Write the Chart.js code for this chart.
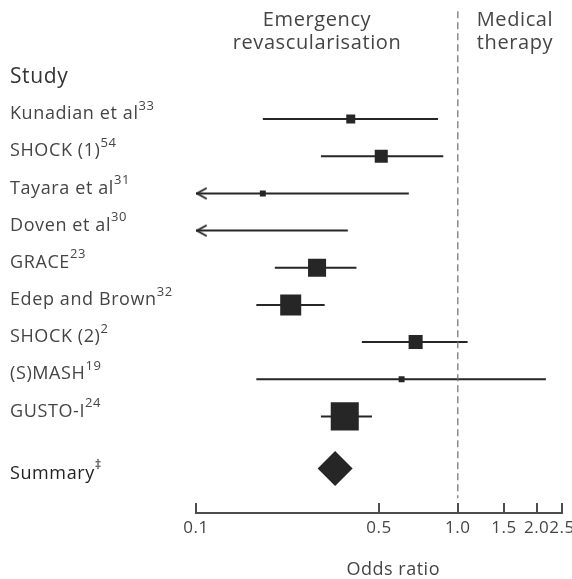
<!DOCTYPE html>
<html>
<head>
<meta charset="utf-8">
<script src="https://cdn.jsdelivr.net/npm/chart.js@4/dist/chart.umd.min.js"></script>
<style>
  html, body { margin: 0; padding: 0; background: #fff; }
  #wrap { width: 572px; height: 579px; }
</style>
</head>
<body>
<div id="wrap"><canvas id="forestChart"></canvas></div>
<script>
// study data (odds ratio with 95% CI)
var studies = ['Kunadian et al', 'SHOCK (1)', 'Tayara et al', 'Doven et al', 'GRACE',
               'Edep and Brown', 'SHOCK (2)', '(S)MASH', 'GUSTO-I'];
var refs = ['33', '54', '31', '30', '23', '32', '2', '19', '24'];
var oddsRatio = [0.39, 0.51, 0.18, null, 0.29, 0.23, 0.69, 0.61, 0.37];
var ciLow = [0.18, 0.30, 0.05, 0.05, 0.20, 0.17, 0.43, 0.17, 0.30];
var ciHigh = [0.84, 0.88, 0.65, 0.38, 0.41, 0.31, 1.09, 2.17, 0.47];
var weights = [3.9, 8.2, 1.7, 0, 15.7, 21.3, 9.5, 1.7, 37.9];   // % weight, box area
var summaryOR = 0.34;
var tickValues = [0.1, 0.5, 1.0, 1.5, 2.0, 2.5];

var axisMin = 0.1, axisMax = 2.5;
var summaryRow = 9.4;
var FONT = '"Open Sans", Lato, sans-serif';
var INK = '#262626';
var TXT = '#454545';

// build datasets from the arrays
var ciSegments = [];
var arrows = [];
var boxes = [];
var boxRadius = [];
studies.forEach(function (s, i) {
  ciSegments.push({x: ciLow[i], y: i}, {x: ciHigh[i], y: i}, {x: ciHigh[i], y: null});
  if (ciLow[i] < axisMin) arrows.push({x: axisMin, y: i});
  if (oddsRatio[i] != null) {
    boxes.push({x: oddsRatio[i], y: i});
    boxRadius.push(Math.sqrt(weights[i]) * 3.22);
  }
});

function arrowHead() {
  var c = document.createElement('canvas');
  c.width = 40; c.height = 16;
  var g = c.getContext('2d');
  g.strokeStyle = INK; g.lineWidth = 2; g.lineCap = 'round';
  g.beginPath(); g.moveTo(30, 3); g.lineTo(21, 8); g.lineTo(30, 13); g.stroke();
  return c;
}

var spacingPlugin = {
  id: 'spacing',
  beforeDraw: function (chart) { chart.ctx.letterSpacing = '0.5px'; }
};

// labels on the left + headers
var textPlugin = {
  id: 'forestText',
  afterDraw: function (chart) {
    var ctx = chart.ctx, y = chart.scales.y;
    ctx.save();
    ctx.textBaseline = 'middle';
    ctx.fillStyle = TXT;

    ctx.textAlign = 'center';
    ctx.letterSpacing = '0.6px';
    ctx.font = '20px ' + FONT;
    ctx.fillText('Emergency', 317, 20);
    ctx.fillText('revascularisation', 317, 43);
    ctx.fillText('Medical', 515, 20);
    ctx.fillText('therapy', 515, 43);

    ctx.textAlign = 'left';
    ctx.fillStyle = '#333';
    ctx.font = '21px ' + FONT;
    ctx.fillText('Study', 10, 77);

    function label(txt, sup, py, color) {
      ctx.fillStyle = color;
      ctx.font = '18px ' + FONT;
      ctx.fillText(txt, 10, py);
      var w = ctx.measureText(txt).width;
      ctx.font = '13px ' + FONT;
      ctx.fillText(sup, 10 + w, py - 8);
    }
    studies.forEach(function (s, i) {
      label(s, refs[i], y.getPixelForValue(i) - 5, TXT);
    });
    label('Summary', '\u2021', y.getPixelForValue(summaryRow) + 5, '#222');

    // upward tick marks on the x axis
    var x = chart.scales.x, bottom = chart.chartArea.bottom;
    ctx.strokeStyle = '#4d4d4d';
    ctx.lineWidth = 2;
    tickValues.forEach(function (v) {
      var px = Math.round(x.getPixelForValue(v));
      ctx.beginPath(); ctx.moveTo(px, bottom); ctx.lineTo(px, bottom - 10); ctx.stroke();
    });
    ctx.restore();
  }
};

new Chart(document.getElementById('forestChart'), {
  type: 'scatter',
  data: {
    datasets: [
      {
        type: 'line', data: [{x: 1, y: -2.9}, {x: 1, y: 10.2}],
        borderColor: '#6e6e6e', borderWidth: 1.2, borderDash: [7, 4],
        pointRadius: 0
      },
      {
        type: 'line', data: ciSegments, spanGaps: false,
        borderColor: INK, borderWidth: 2, pointRadius: 0
      },
      {
        data: arrows, pointStyle: arrowHead(), pointRadius: 8
      },
      {
        data: boxes, pointStyle: 'rect', pointRadius: boxRadius,
        backgroundColor: INK, borderWidth: 0
      },
      {
        data: [{x: summaryOR, y: summaryRow}], pointStyle: 'rectRot', pointRadius: 17.5,
        backgroundColor: INK, borderWidth: 0
      }
    ]
  },
  options: {
    responsive: true,
    maintainAspectRatio: false,
    animation: false,
    events: [],
    layout: { autoPadding: false, padding: { left: 196, right: 10, top: 7.6, bottom: 0 } },
    plugins: { legend: { display: false }, tooltip: { enabled: false } },
    scales: {
      x: {
        type: 'logarithmic',
        min: axisMin, max: axisMax,
        afterBuildTicks: function (scale) {
          scale.ticks = tickValues.map(function (v) { return {value: v}; });
        },
        afterFit: function (scale) {
          // let the last label hang into the right margin
          scale.paddingLeft = 0;
          scale.paddingRight = 0;
        },
        grid: { display: false, drawTicks: false },
        border: { display: true, color: '#4d4d4d', width: 2 },
        ticks: {
          padding: 5,
          color: TXT,
          font: { family: FONT, size: 17 },
          maxRotation: 0, autoSkip: false,
          callback: function (v) { return Number(v).toFixed(1); }
        },
        title: {
          display: true, text: '\u2002\u2002\u2002Odds ratio', color: TXT,
          font: { family: FONT, size: 18 },
          padding: { top: 16, bottom: -2 }
        }
      },
      y: {
        type: 'linear', reverse: true, min: -3, max: 10.6,
        display: false
      }
    }
  },
  plugins: [spacingPlugin, textPlugin]
});
</script>
</body>
</html>
